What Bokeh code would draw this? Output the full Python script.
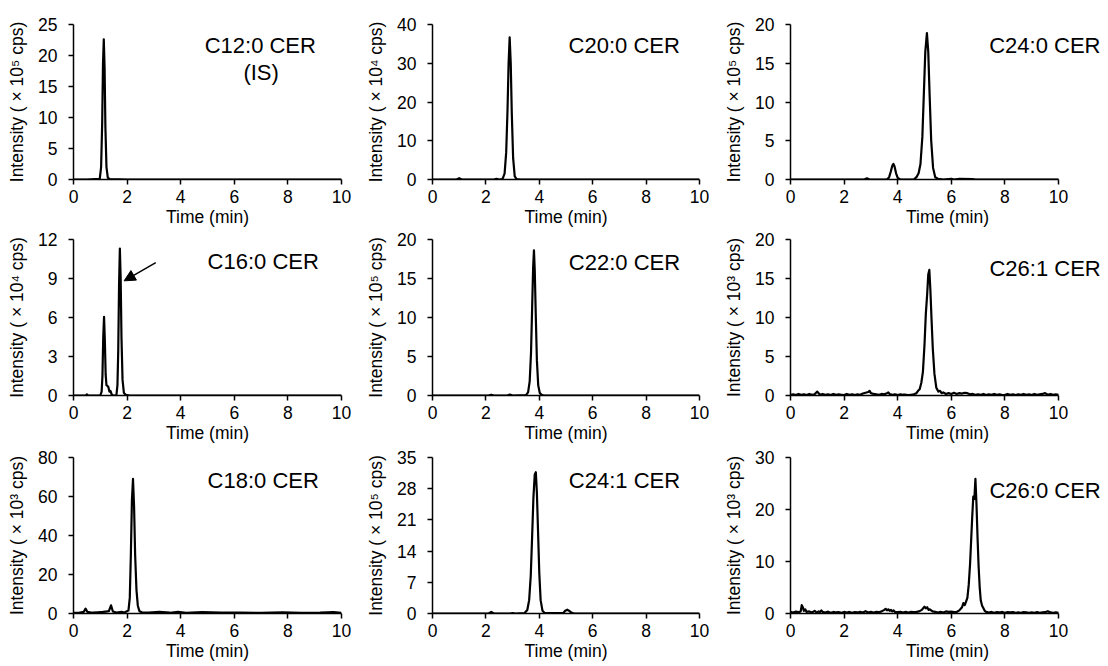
from bokeh.plotting import figure
from bokeh.layouts import column, row
from bokeh.models import Range1d, FixedTicker, Label, Arrow, NormalHead
from bokeh.embed import file_html
from bokeh.resources import INLINE

# ---------------- data ----------------
X_TICKS = [0, 2, 4, 6, 8, 10]

C12_T = [0, 0.5, 0.98, 1.03, 1.07, 1.10, 1.13, 1.16, 1.19, 1.23, 1.28, 1.35, 2.0, 10]
C12_I = [0, 0, 0.1, 2.0, 9.0, 18.5, 22.6, 18.0, 8.5, 2.0, 0.3, 0.05, 0, 0]

C20_T = [0, 0.9, 1.0, 1.1, 2.3, 2.4, 2.5, 2.62, 2.70, 2.76, 2.81, 2.85, 2.89, 2.93, 2.97, 3.02, 3.08, 3.15, 3.3, 10]
C20_I = [0, 0, 0.35, 0, 0, 0.15, 0, 0.1, 1.5, 7.0, 18.0, 30.0, 36.7, 30.0, 17.0, 5.5, 0.8, 0.1, 0, 0]

C24_0_T = [0, 2.75, 2.85, 2.95, 3.6, 3.68, 3.74, 3.80, 3.84, 3.88, 3.94, 4.0, 4.1, 4.6, 4.7, 4.78, 4.85,
           4.92, 4.98, 5.03, 5.09, 5.14, 5.19, 5.25, 5.32, 5.40, 5.5, 5.7, 6.0, 6.1, 6.3, 6.8, 6.9, 10]
C24_0_I = [0, 0, 0.15, 0, 0, 0.3, 1.0, 1.8, 2.0, 1.7, 0.8, 0.2, 0, 0, 0.3, 0.8, 2.0,
           5.5, 11.5, 16.5, 18.9, 16.5, 11.0, 5.0, 1.5, 0.3, 0.1, 0, 0.1, 0, 0.08, 0.05, 0, 0]

C16_T = [0, 0.45, 0.5, 0.55, 1.0, 1.05, 1.08, 1.11, 1.14, 1.17, 1.20, 1.23, 1.26, 1.30, 1.34, 1.38, 1.42,
         1.48, 1.6, 1.64, 1.67, 1.70, 1.73, 1.76, 1.79, 1.83, 1.88, 1.95, 2.1, 10]
C16_I = [0, 0, 0.08, 0, 0, 0.3, 1.5, 4.5, 6.05, 4.2, 1.6, 0.8, 0.75, 0.65, 0.3, 0.35, 0.1,
         0, 0, 0.8, 3.5, 8.5, 11.3, 9.0, 4.5, 1.2, 0.2, 0.05, 0, 0]

C22_T = [0, 2.1, 2.2, 2.3, 2.8, 2.9, 3.0, 3.5, 3.58, 3.64, 3.69, 3.73, 3.77, 3.80, 3.83, 3.87, 3.91, 3.96, 4.02, 4.1, 4.2, 10]
C22_I = [0, 0, 0.1, 0, 0, 0.12, 0, 0.05, 0.4, 1.8, 5.5, 11.0, 16.5, 18.6, 16.0, 10.0, 4.5, 1.3, 0.3, 0.05, 0, 0]

C26_1_T = [0.0, 0.1, 0.2, 0.3, 0.4, 0.5, 0.6, 0.7, 0.8, 0.9, 1.0, 1.05, 1.1, 1.2, 1.3, 1.4, 1.5, 1.6, 1.7, 1.8,
           1.9, 2.0, 2.1, 2.2, 2.3, 2.4, 2.5, 2.6, 2.7, 2.8, 2.9, 2.95, 3.0, 3.1, 3.2, 3.3, 3.4, 3.5, 3.6, 3.65,
           3.7, 3.8, 3.9, 4.0, 4.1, 4.2, 4.3, 4.4, 4.5, 4.6, 4.7, 4.76, 4.82, 4.88, 4.94, 5.0, 5.05, 5.1, 5.14,
           5.18, 5.22, 5.26, 5.31, 5.37, 5.44, 5.52, 5.58, 5.64, 5.7, 5.8, 5.9, 6.0, 6.1, 6.2, 6.3, 6.4, 6.5,
           6.6, 6.7, 6.8, 6.9, 7.0, 7.1, 7.2, 7.3, 7.4, 7.5, 7.6, 7.7, 7.8, 7.9, 8.0, 8.1, 8.2, 8.3, 8.4, 8.5,
           8.6, 8.7, 8.8, 8.9, 9.0, 9.1, 9.2, 9.3, 9.4, 9.5, 9.6, 9.7, 9.8, 9.9, 10.0]
C26_1_I = [0.1, 0.15, 0.05, 0.2, 0.1, 0.15, 0.05, 0.2, 0.1, 0.15, 0.5, 0.3, 0.1, 0.2, 0.1, 0.15, 0.05, 0.2, 0.1, 0.15,
           0.1, 0.05, 0.2, 0.1, 0.15, 0.05, 0.15, 0.1, 0.25, 0.35, 0.45, 0.6, 0.3, 0.2, 0.15, 0.1, 0.2, 0.15, 0.3, 0.4,
           0.2, 0.1, 0.15, 0.05, 0.15, 0.1, 0.1, 0.05, 0.1, 0.15, 0.3, 0.6, 0.8, 1.6, 3.0, 6.5, 10.5, 13.0, 15.5,
           16.1, 13.5, 10.0, 6.0, 2.8, 1.0, 0.5, 0.6, 0.3, 0.4, 0.2, 0.3, 0.2, 0.35, 0.2, 0.3, 0.25, 0.35,
           0.3, 0.15, 0.2, 0.1, 0.15, 0.1, 0.2, 0.05, 0.15, 0.1, 0.2, 0.1, 0.15, 0.05, 0.1, 0.2, 0.1, 0.15, 0.05, 0.15,
           0.1, 0.2, 0.1, 0.15, 0.05, 0.2, 0.1, 0.15, 0.2, 0.3, 0.1, 0.2, 0.1, 0.15, 0.1]

C18_T = [0, 0.2, 0.38, 0.45, 0.52, 0.7, 0.9, 1.1, 1.2, 1.32, 1.4, 1.47, 1.6, 1.8, 1.9, 2.05, 2.1, 2.14, 2.18,
         2.22, 2.26, 2.30, 2.35, 2.40, 2.46, 2.55, 2.8, 3.2, 3.6, 3.9, 4.2, 4.8, 5.5, 6.2, 7.0, 7.8, 8.5, 9.2, 9.7, 10]
C18_I = [0.3, 0.3, 0.8, 2.5, 0.8, 0.4, 0.6, 0.8, 1.0, 1.2, 4.2, 1.0, 0.5, 0.8, 0.5, 1.5, 8.0, 30.0, 58.0,
         69.0, 55.0, 30.0, 12.0, 4.0, 1.2, 0.6, 0.5, 0.8, 0.4, 0.9, 0.3, 0.7, 0.4, 0.5, 0.3, 0.6, 0.3, 0.4, 0.7, 0.3]

C24_1_T = [0, 2.1, 2.2, 2.3, 2.9, 3.0, 3.1, 3.45, 3.55, 3.62, 3.68, 3.73, 3.78, 3.83, 3.87, 3.91, 3.95, 4.0,
           4.05, 4.12, 4.2, 4.9, 4.97, 5.05, 5.12, 5.2, 5.3, 10]
C24_1_I = [0, 0, 0.35, 0, 0, 0.1, 0, 0.1, 0.8, 3.0, 8.5, 17.0, 26.0, 31.2, 31.7, 27.0, 19.0, 9.0,
           3.0, 0.6, 0.1, 0.1, 0.6, 0.85, 0.6, 0.2, 0, 0]

C26_0_T = [0.0, 0.1, 0.2, 0.3, 0.38, 0.42, 0.46, 0.5, 0.55, 0.6, 0.7, 0.8, 0.9, 0.95, 1.0, 1.05, 1.1, 1.15, 1.2,
           1.3, 1.4, 1.5, 1.6, 1.7, 1.8, 1.9, 2.0, 2.1, 2.2, 2.3, 2.4, 2.5, 2.6, 2.7, 2.8, 2.9, 3.0, 3.1, 3.2,
           3.3, 3.4, 3.5, 3.55, 3.6, 3.65, 3.7, 3.75, 3.8, 3.85, 3.9, 4.0, 4.1, 4.2, 4.3, 4.4, 4.5, 4.6, 4.7,
           4.8, 4.9, 4.95, 5.0, 5.05, 5.1, 5.15, 5.2, 5.3, 5.4, 5.5, 5.6, 5.7, 5.8, 5.9, 6.0, 6.1, 6.2, 6.3,
           6.4, 6.45, 6.5, 6.55, 6.6, 6.65, 6.7, 6.74, 6.78, 6.82, 6.86, 6.9, 6.94, 6.98, 7.02, 7.06, 7.1, 7.15,
           7.2, 7.25, 7.3, 7.4, 7.5, 7.6, 7.7, 7.8, 7.9, 8.0, 8.1, 8.2, 8.3, 8.4, 8.5, 8.6, 8.7, 8.8, 8.9, 9.0,
           9.1, 9.2, 9.3, 9.4, 9.5, 9.6, 9.7, 9.8, 9.9, 10.0]
C26_0_I = [0.3, 0.2, 0.35, 0.25, 0.4, 1.6, 1.2, 0.5, 0.8, 0.3, 0.4, 0.2, 0.5, 0.3, 0.2, 0.4, 0.3, 0.6, 0.3,
           0.2, 0.35, 0.15, 0.3, 0.2, 0.25, 0.15, 0.3, 0.2, 0.3, 0.15, 0.25, 0.2, 0.3, 0.2, 0.45, 0.2, 0.3, 0.2, 0.3,
           0.25, 0.4, 0.7, 0.9, 0.6, 0.8, 0.5, 0.7, 0.4, 0.6, 0.3, 0.25, 0.3, 0.2, 0.3, 0.2, 0.3, 0.25, 0.3,
           0.4, 0.7, 1.0, 1.3, 1.0, 1.2, 0.7, 0.8, 0.4, 0.3, 0.2, 0.3, 0.2, 0.4, 0.3, 0.35, 0.25, 0.3, 0.6,
           1.2, 2.0, 1.6, 2.3, 3.0, 5.5, 9.5, 14.0, 18.5, 22.5, 22.0, 25.9, 21.0, 14.5, 9.0, 5.0, 2.5, 1.5,
           1.0, 0.5, 0.3, 0.2, 0.3, 0.15, 0.25, 0.2, 0.3, 0.15, 0.25, 0.2, 0.25, 0.15, 0.2, 0.15, 0.25, 0.2, 0.15, 0.2,
           0.15, 0.25, 0.15, 0.2, 0.25, 0.45, 0.2, 0.15, 0.2, 0.15]

NAMES = ["C12:0 CER", "C20:0 CER", "C24:0 CER", "C16:0 CER", "C22:0 CER", "C26:1 CER",
         "C18:0 CER", "C24:1 CER", "C26:0 CER"]
EXPONENTS = ["⁵", "⁴", "⁵", "⁴", "⁵", "³", "³", "⁵", "³"]
Y_MAX = [25, 40, 20, 12, 20, 20, 80, 35, 30]
Y_TICKS = [[0, 5, 10, 15, 20, 25], [0, 10, 20, 30, 40], [0, 5, 10, 15, 20],
           [0, 3, 6, 9, 12], [0, 5, 10, 15, 20], [0, 5, 10, 15, 20],
           [0, 20, 40, 60, 80], [0, 7, 14, 21, 28, 35], [0, 10, 20, 30]]
SERIES = [(C12_T, C12_I), (C20_T, C20_I), (C24_0_T, C24_0_I),
          (C16_T, C16_I), (C22_T, C22_I), (C26_1_T, C26_1_I),
          (C18_T, C18_I), (C24_1_T, C24_1_I), (C26_0_T, C26_0_I)]

# ---------------- layout / style ----------------
FONT = "Liberation Sans"
LEFT_B = 73
COL_W = [359, 358, 391]
RIGHT_B = [18, 18, 4]
FRAME_W = [268, 267, 314]      # px; the axis itself spans 268 px (0..10)
AXIS_W = 268
ROW_H = [229, 218, 216]
TOP_B = [24, 10, 10]
BOT_B = [50, 52, 50]

# label anchor (fraction of the 0..10 axis, fraction of y range)
NAME_POS = [(0.697, 0.865), (0.718, 0.865), (0.949, 0.865),
            (0.708, 0.857), (0.719, 0.855), (0.95, 0.815),
            (0.708, 0.853), (0.719, 0.852), (0.95, 0.79)]
IS_POS = (0.70, 0.69)
ARROW_TAIL = (0.307, 0.852)
ARROW_TIP = (0.189, 0.735)


def make_panel(k):
    r, c = divmod(k, 3)
    t, inten = SERIES[k]
    ymax = Y_MAX[k]
    x_end = 10 * FRAME_W[c] / AXIS_W if c == 2 else 10
    p = figure(width=COL_W[c], height=ROW_H[r],
               x_range=Range1d(0, x_end), y_range=Range1d(0, ymax),
               output_backend="svg", toolbar_location=None,
               min_border_left=LEFT_B, min_border_right=RIGHT_B[c],
               min_border_top=TOP_B[r], min_border_bottom=BOT_B[r])
    p.outline_line_color = None
    p.grid.visible = False
    p.background_fill_color = "white"
    p.border_fill_color = "white"

    p.line(t, inten, line_color="black", line_width=2.2, line_join="round")

    for ax in (p.xaxis[0], p.yaxis[0]):
        ax.axis_line_color = "black"
        ax.axis_line_width = 1.5
        ax.major_tick_line_color = "black"
        ax.major_tick_line_width = 1.5
        ax.major_tick_in = 0
        ax.major_tick_out = 5
        ax.minor_tick_line_color = None
        ax.major_label_text_font = FONT
        ax.major_label_text_font_size = "17.5px"
        ax.major_label_text_color = "black"
        ax.axis_label_text_font = FONT
        ax.axis_label_text_font_size = "17.5px"
        ax.axis_label_text_font_style = "normal"
        ax.axis_label_text_color = "black"
    p.xaxis.bounds = (0, 10)
    p.xaxis.ticker = FixedTicker(ticks=X_TICKS)
    p.yaxis.ticker = FixedTicker(ticks=Y_TICKS[k])
    p.xaxis.axis_label = "Time (min)"
    p.yaxis.axis_label = "Intensity ( × 10" + EXPONENTS[k] + " cps)"
    p.xaxis.major_label_standoff = 5
    p.xaxis.axis_label_standoff = 1
    p.yaxis.major_label_standoff = 11
    p.yaxis.axis_label_standoff = 8

    fx, fy = NAME_POS[k]
    p.add_layout(Label(x=fx * 10, y=fy * ymax, text=NAMES[k], text_font=FONT,
                       text_font_size="22px", text_align="center", text_baseline="middle",
                       text_color="black"))
    if k == 0:
        p.add_layout(Label(x=IS_POS[0] * 10, y=IS_POS[1] * ymax, text="(IS)", text_font=FONT,
                           text_font_size="22px", text_align="center", text_baseline="middle",
                           text_color="black"))
    if k == 3:
        p.add_layout(Arrow(x_start=ARROW_TAIL[0] * 10, y_start=ARROW_TAIL[1] * ymax,
                           x_end=ARROW_TIP[0] * 10, y_end=ARROW_TIP[1] * ymax,
                           line_color="black", line_width=1.5,
                           end=NormalHead(size=11, fill_color="black", line_color="black")))
    return p


panels = [make_panel(k) for k in range(9)]
layout = column(row(*panels[0:3]), row(*panels[3:6]), row(*panels[6:9]))

open("out.html", "w").write(file_html(layout, INLINE))
